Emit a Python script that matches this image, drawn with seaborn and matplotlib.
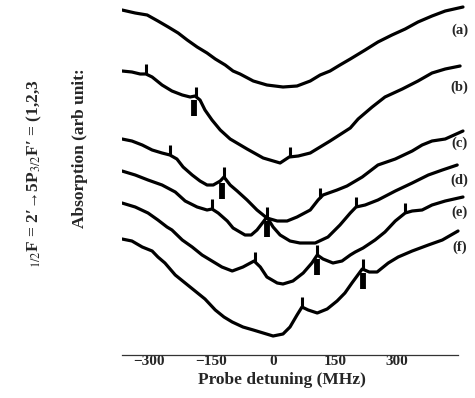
import numpy as np
import pandas as pd
import matplotlib
matplotlib.use("Agg")
import matplotlib.pyplot as plt
import seaborn as sns

# probe detuning (MHz) / absorption (arb. units)
a_x = [-366, -334, -305, -279, -254, -230, -208, -184, -160, -140, -116, -97, -80, -48, -15,
       24, 58, 90, 114, 138, 162, 187, 223, 254, 288, 320, 351, 385, 417, 460]
a_y = [34.5, 34.2, 34.0, 33.4, 32.8, 32.2, 31.5, 30.8, 30.2, 29.6, 29.0, 28.4, 28.1, 27.4, 27.0,
       26.8, 26.9, 27.4, 28.0, 28.4, 29.0, 29.6, 30.5, 31.3, 32.0, 32.6, 33.3, 33.9, 34.4, 34.8]

b_x = [-366, -342, -322, -308, -293, -269, -245, -220, -201, -189, -177, -165, -148, -128, -104,
       -63, -24, 17, 39, 61, 90, 138, 187, 206, 240, 271, 313, 351, 385, 417, 453]
b_y = [28.4, 28.3, 28.1, 28.1, 27.8, 27.0, 26.4, 26.0, 25.8, 25.9, 25.5, 24.5, 23.5, 22.5, 21.6,
       20.6, 19.7, 19.2, 19.8, 19.9, 20.2, 21.4, 22.7, 23.6, 24.8, 25.8, 26.6, 27.4, 28.2, 28.6, 28.9]

c_x = [-366, -342, -317, -293, -269, -250, -233, -218, -196, -177, -160, -145, -128, -119, -104,
       -87, -63, -39, -15, 10, 34, 58, 90, 109, 121, 155, 179, 216, 254, 296, 337, 361, 385, 417, 460]
c_y = [21.6, 21.4, 21.0, 20.5, 20.2, 20.0, 19.6, 18.8, 18.0, 17.4, 17.0, 17.0, 17.4, 17.8, 17.0,
       16.4, 15.5, 14.5, 13.7, 13.4, 13.4, 13.8, 14.5, 15.5, 16.0, 16.5, 16.9, 17.8, 19.0, 19.6, 20.4,
       21.0, 21.4, 21.6, 22.4]

d_x = [-366, -334, -303, -269, -237, -213, -184, -160, -148, -133, -111, -97, -68, -53, -39,
       -24, -15, 0, 17, 41, 65, 102, 133, 162, 187, 201, 223, 254, 296, 337, 376, 410, 446]
d_y = [18.4, 18.0, 17.5, 17.0, 16.3, 15.4, 14.8, 14.5, 14.6, 14.2, 13.4, 12.7, 12.0, 12.0, 12.5,
       13.3, 13.8, 12.8, 12.0, 11.4, 11.2, 11.2, 11.8, 13.0, 14.2, 14.8, 15.0, 15.5, 16.4, 17.2, 18.0,
       18.5, 19.0]

e_x = [-366, -334, -303, -279, -257, -245, -220, -196, -172, -148, -124, -99, -73, -46, -31,
       -15, 10, 24, 48, 73, 94, 107, 121, 145, 167, 187, 199, 218, 247, 271, 296, 320, 337, 361,
       385, 417, 460]
e_y = [15.2, 14.8, 14.2, 13.5, 12.8, 12.5, 11.5, 10.8, 10.0, 9.4, 8.8, 8.4, 8.8, 9.4, 8.8,
       7.8, 7.2, 7.1, 7.4, 8.2, 9.2, 10.0, 9.6, 9.2, 9.4, 10.0, 10.3, 10.7, 11.5, 12.3, 13.4, 14.2,
       14.4, 14.5, 15.0, 15.4, 15.8]

f_x = [-366, -342, -317, -293, -279, -262, -237, -213, -189, -165, -140, -119, -99, -73, -48,
       -24, 0, 24, 41, 58, 70, 85, 107, 131, 155, 174, 191, 216, 233, 252, 279, 303, 337, 376,
       410, 448]
f_y = [11.6, 11.4, 10.8, 10.4, 9.8, 9.2, 8.0, 7.2, 6.4, 5.6, 4.5, 3.8, 3.3, 2.8, 2.5,
       2.2, 1.9, 2.1, 2.8, 4.0, 4.8, 4.5, 4.2, 4.6, 5.4, 6.2, 7.2, 8.6, 8.3, 8.3, 9.2, 9.8, 10.4,
       11.0, 11.5, 12.4]

# small ticks above the resonances, thick arrows under the pump frequency
b_ticks, b_arrows = [-308, -186, 41], [-191]
c_ticks, c_arrows = [-250, -119, 114], [-124]
d_ticks, d_arrows = [-148, -15, 201], [-15]
e_ticks, e_arrows = [-44, 107, 320], [107]
f_ticks, f_arrows = [70, 218], [218]

trace_names = ["(a)", "(b)", "(c)", "(d)", "(e)", "(f)"]
tick_values = [-300, -150, 0, 150, 300]
tick_labels = ["\u2212300", "\u2212150", "0", "150", "300"]

traces = [(a_x, a_y), (b_x, b_y), (c_x, c_y), (d_x, d_y), (e_x, e_y), (f_x, f_y)]
marks = [([], []), (b_ticks, b_arrows), (c_ticks, c_arrows), (d_ticks, d_arrows),
         (e_ticks, e_arrows), (f_ticks, f_arrows)]

frames = []
for name, (xs, ys) in zip(trace_names, traces):
    frames.append(pd.DataFrame({"detuning": xs, "absorption": ys, "trace": name}))
df = pd.concat(frames, ignore_index=True)

sns.set_theme(style="white")
plt.rcParams["font.family"] = ["Liberation Serif", "DejaVu Serif"]
plt.rcParams["mathtext.fontset"] = "stix"

fig = plt.figure(figsize=(4.75, 3.98), dpi=100)
ax = fig.add_axes([122 / 475, 43 / 398, 348 / 475, 355 / 398])

sns.lineplot(data=df, x="detuning", y="absorption", hue="trace", units="trace",
             estimator=None, sort=False, palette=["black"] * 6, linewidth=2.3,
             legend=False, ax=ax)

for (xs, ys), (tk, ar) in zip(traces, marks):
    if tk:
        yt = np.interp(tk, xs, ys)
        ax.vlines(tk, yt, yt + 1.0, colors="black", linewidth=2.2)
    if ar:
        ya = np.interp(ar, xs, ys)
        ax.vlines(ar, ya - 0.4, ya - 2.0, colors="black", linewidth=4.2)

label_drop = [2.3, 2.1, 1.2, 1.5, 1.5, 1.6]
for name, (xs, ys), drop in zip(trace_names, traces, label_drop):
    ax.text(452, ys[-1] - drop, name, ha="center", va="center", fontsize=10.5,
            fontweight="bold", clip_on=False)

ax.set_xlim(-366, 477)
ax.set_ylim(0, 35.5)
ax.set_xticks(tick_values)
ax.set_xticklabels(tick_labels, fontsize=11, fontweight="bold")
ax.set_yticks([])
ax.tick_params(axis="x", length=0, pad=0)
for side in ["top", "right", "left"]:
    ax.spines[side].set_visible(False)
ax.spines["bottom"].set_bounds(-366, 448)
ax.spines["bottom"].set_linewidth(0.9)
ax.spines["bottom"].set_color("#333333")

ax.set_xlabel("Probe detuning (MHz)", fontsize=12.5, fontweight="bold")
ax.xaxis.set_label_coords((282 - 122) / 348, -0.048)
ax.set_ylabel("")

fig.text(80 / 475, 1 - 148 / 398, "Absorption (arb unit:", rotation=90,
         ha="center", va="center", fontsize=12.5, fontweight="bold")
fig.text(34 / 475, 1 - 174 / 398, "${}_{1/2}$F = 2\u2032\u21925P$_{3/2}$F\u2032 = (1,2,3",
         rotation=90, ha="center", va="center", fontsize=12.5, fontweight="bold")

fig.savefig("out.png", dpi=100)
